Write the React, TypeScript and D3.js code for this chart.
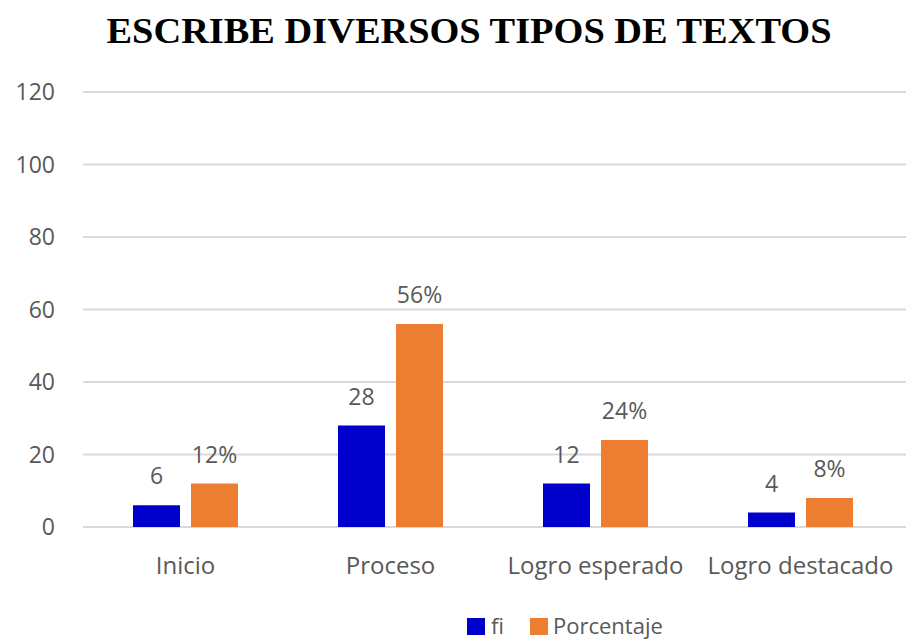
import React from "react";
import * as d3 from "d3";

const categories = ["Inicio", "Proceso", "Logro esperado", "Logro destacado"];
const seriesNames = ["fi", "Porcentaje"];
const fiValues = [6, 28, 12, 4];
const pctValues = [12, 56, 24, 8];
const yTicks = [0, 20, 40, 60, 80, 100, 120];
const colors = ["#0000CC", "#ED7D31"];

const W = 906;
const H = 640;
const font = "'Open Sans', 'Noto Sans', sans-serif";
const textColor = "#595959";

export default function App() {
  const x0 = d3.scaleBand<string>().domain(categories).range([83, 903]).padding(0);
  const bw = x0.bandwidth();
  const barW = 47;
  const gap = 11;
  const step = barW + gap;
  const pi = gap / step;
  const po = (bw / step - (2 - pi)) / 2;
  const x1 = d3
    .scaleBand<string>()
    .domain(seriesNames)
    .range([0, bw])
    .paddingInner(pi)
    .paddingOuter(po);
  const y = d3.scaleLinear().domain([0, 120]).range([527, 92]);

  const series = [
    { name: "fi", values: fiValues, fmt: (v: number) => `${v}` },
    { name: "Porcentaje", values: pctValues, fmt: (v: number) => `${v}%` },
  ];

  return (
    <svg
      width={W}
      height={H}
      style={{ position: "absolute", left: 0, top: 0, background: "#fff" }}
    >
      <rect x={0} y={0} width={W} height={H} fill="#fff" />
      <text
        x={469}
        y={43}
        textAnchor="middle"
        fontFamily="'Liberation Serif', 'Times New Roman', serif"
        fontWeight="bold"
        fontSize={36}
        textLength={725}
        lengthAdjust="spacingAndGlyphs"
        fill="#000"
      >
        ESCRIBE DIVERSOS TIPOS DE TEXTOS
      </text>

      {yTicks.map((t) => (
        <g key={t}>
          <line x1={83} x2={906} y1={y(t)} y2={y(t)} stroke="#D9D9D9" strokeWidth={2} />
          <text
            x={55}
            y={y(t)}
            dy="0.35em"
            textAnchor="end"
            fontFamily={font}
            fontSize={23}
            fill={textColor}
          >
            {t}
          </text>
        </g>
      ))}

      {series.map((s, si) =>
        categories.map((c, ci) => {
          const bx = (x0(c) ?? 0) + (x1(s.name) ?? 0);
          const v = s.values[ci];
          return (
            <g key={`${s.name}-${c}`}>
              <rect
                x={bx}
                y={y(v)}
                width={x1.bandwidth()}
                height={y(0) - y(v)}
                fill={colors[si]}
              />
              <text
                x={bx + x1.bandwidth() / 2}
                y={y(v) - 21}
                textAnchor="middle"
                fontFamily={font}
                fontSize={23}
                fill={textColor}
              >
                {s.fmt(v)}
              </text>
            </g>
          );
        })
      )}

      {categories.map((c) => (
        <text
          key={c}
          x={(x0(c) ?? 0) + bw / 2}
          y={574}
          textAnchor="middle"
          fontFamily={font}
          fontSize={24}
          fill={textColor}
        >
          {c}
        </text>
      ))}

      <g>
        <rect x={467} y={618} width={18} height={17} fill={colors[0]} />
        <text x={491} y={634} fontFamily={font} fontSize={22} fill={textColor}>
          {seriesNames[0]}
        </text>
        <rect x={530} y={618} width={18} height={17} fill={colors[1]} />
        <text x={553} y={634} fontFamily={font} fontSize={22} fill={textColor}>
          {seriesNames[1]}
        </text>
      </g>
    </svg>
  );
}
